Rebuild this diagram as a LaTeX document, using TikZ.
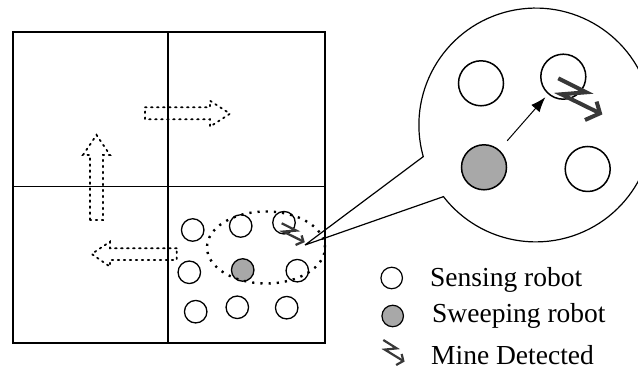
\documentclass[tikz,border=0pt]{standalone}
\usepackage{fontspec}
\setmainfont{Liberation Serif}
\usetikzlibrary{arrows.meta,calc}
\definecolor{sweepgray}{HTML}{A8A8A8}
\definecolor{minegray}{HTML}{383838}
\tikzset{
  robot/.style={circle, draw, line width=1.3pt, inner sep=0pt, minimum size=22.5pt},
  bigrobot/.style={robot, line width=1.5pt, minimum size=45pt},
  legrobot/.style={robot, line width=1.2pt, minimum size=21.5pt},
  sweep/.style={fill=sweepgray},
  blockarrow/.style={line width=1.8pt, dash pattern=on 1.6pt off 4.4pt, line cap=round},
  rangeell/.style={line width=2.4pt, dash pattern=on 2.2pt off 6pt},
  legtext/.style={anchor=base west, inner sep=0pt, font=\fontsize{27.5}{30}\selectfont},
  mine/.pic={
    \draw[minegray, line join=miter, line cap=butt] (0,0) -- (28,-14) -- (3,-16) -- (41.7,-35);
    \draw[minegray, line join=miter, line cap=butt] (26.7,-41.7) -- (41.7,-35) -- (38.3,-23.3);
  }
}
\begin{document}
\begin{tikzpicture}[x=1pt,y=1pt]
\useasboundingbox (0,0) rectangle (638,371);
% field
\draw[line width=1.1pt] (168,28) coordinate (vb) -- (168,339.3) coordinate (vt);
\draw[line width=1.1pt] (12.7,184.3) coordinate (hl) -- (325,184.3) coordinate (hr);
\draw[line width=1.8pt] (12.7,28) rectangle (325,339.3);
% dotted block arrows
\draw[blockarrow] (145,263.7) -- (210,263.7) -- (210,270.3) -- (230,257.3) -- (210,244.3) -- (210,251.7) -- (145,251.7) -- cycle;
\draw[blockarrow] (90,151) -- (90,216) -- (83,216) -- (96.5,236) -- (110,216) -- (103,216) -- (103,151) -- cycle;
\draw[blockarrow] (176.7,122.7) -- (110,122.7) -- (110,129.3) -- (91.7,117) -- (110,104.3) -- (110,111) -- (176.7,111) -- cycle;
% robots in the cell
\node[robot] (r1) at (192.7,141) {};
\node[robot] (r2) at (240.7,145) {};
\node[robot] (r3) at (284,148.3) {};
\node[robot] (r4) at (189.3,98.7) {};
\node[robot,sweep] (r5) at (242.7,101) {};
\node[robot] (r6) at (297.3,100.3) {};
\node[robot] (r7) at (195.7,59.3) {};
\node[robot] (r8) at (237.3,63.7) {};
\node[robot] (r9) at (286.7,63.3) {};
% sensing range
\draw[rangeell] (266,123.5) ellipse [x radius=59, y radius=36];
\pic[line width=2.3pt, scale=0.52] at (281.7,147.7) {mine};
% callout
\coordinate (tip) at (305,126);
\coordinate (cc) at (535.8,246);
\draw[line width=1.2pt, line join=miter] (tip) -- ($(cc)+(195.7:116.9)$) coordinate (p1)
  arc[start angle=195.7, end angle=-142.2, radius=116.9] coordinate (p2) -- (tip);
\node[bigrobot] (b1) at (481,287.7) {};
\node[bigrobot] (b2) at (563.3,294.3) {};
\node[bigrobot,sweep] (b3) at (484,203.7) {};
\node[bigrobot] (b4) at (587.7,202) {};
\draw[line width=1pt, -{Latex[length=15pt,width=11pt]}, shorten <=12pt, shorten >=4pt] (b3) -- (b2);
\pic[line width=4pt] at (558.3,292.7) {mine};
% legend
\node[legrobot] (l1) at (391.7,93) {};
\node[legtext] (t1) at (430,84.5) {Sensing robot};
\node[legrobot,sweep] (l2) at (392.7,55) {};
\node[legtext] (t2) at (432,48) {Sweeping robot};
\pic[line width=2.2pt, xscale=0.48, yscale=0.6] at (383.3,31) {mine};
\node[legtext] (t3) at (431,6.5) {Mine Detected};
\end{tikzpicture}
\end{document}
